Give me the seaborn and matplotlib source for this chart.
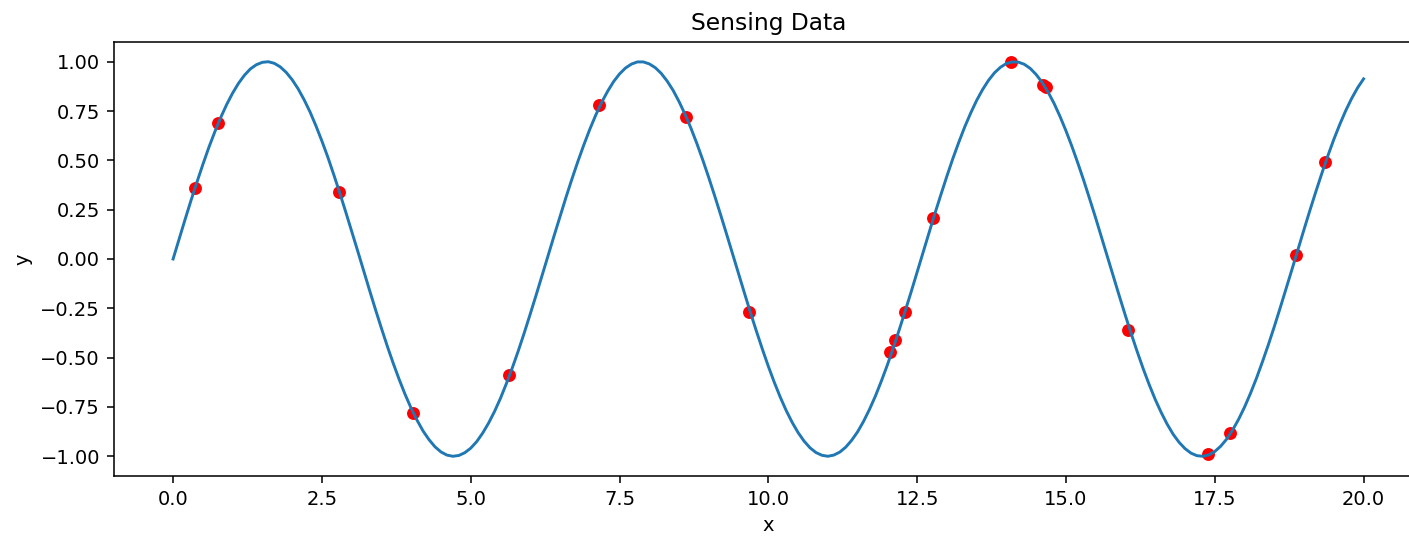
import numpy as np
import pandas as pd
import seaborn as sns
import matplotlib.pyplot as plt

# --- Data ---
# smooth curve, sampled every 0.1 on x from 0 to 20
CURVE_X = np.linspace(0, 20, 201)
CURVE_Y = [
    0.000, 0.100, 0.199, 0.296, 0.389, 0.479, 0.565, 0.644, 0.717, 0.783,
    0.841, 0.891, 0.932, 0.964, 0.985, 0.997, 1.000, 0.992, 0.974, 0.946,
    0.909, 0.863, 0.808, 0.746, 0.675, 0.598, 0.516, 0.427, 0.335, 0.239,
    0.141, 0.042, -0.058, -0.158, -0.256, -0.351, -0.443, -0.530, -0.612, -0.688,
    -0.757, -0.818, -0.872, -0.916, -0.952, -0.978, -0.994, -1.000, -0.996, -0.982,
    -0.959, -0.926, -0.883, -0.832, -0.773, -0.706, -0.631, -0.551, -0.465, -0.374,
    -0.279, -0.182, -0.083, 0.017, 0.117, 0.215, 0.312, 0.405, 0.494, 0.578,
    0.657, 0.729, 0.794, 0.850, 0.899, 0.938, 0.968, 0.988, 0.999, 0.999,
    0.989, 0.970, 0.941, 0.902, 0.855, 0.798, 0.734, 0.663, 0.585, 0.501,
    0.412, 0.319, 0.223, 0.125, 0.025, -0.075, -0.174, -0.272, -0.366, -0.457,
    -0.544, -0.625, -0.700, -0.768, -0.828, -0.880, -0.923, -0.957, -0.981, -0.995,
    -1.000, -0.994, -0.979, -0.954, -0.919, -0.876, -0.823, -0.762, -0.694, -0.618,
    -0.537, -0.450, -0.358, -0.263, -0.166, -0.066, 0.034, 0.133, 0.232, 0.327,
    0.420, 0.509, 0.592, 0.670, 0.740, 0.804, 0.859, 0.906, 0.944, 0.972,
    0.991, 0.999, 0.998, 0.987, 0.966, 0.935, 0.895, 0.846, 0.789, 0.723,
    0.650, 0.571, 0.486, 0.397, 0.303, 0.207, 0.108, 0.008, -0.092, -0.191,
    -0.288, -0.382, -0.472, -0.558, -0.638, -0.712, -0.778, -0.837, -0.888, -0.929,
    -0.961, -0.984, -0.997, -1.000, -0.993, -0.976, -0.949, -0.913, -0.867, -0.813,
    -0.751, -0.681, -0.605, -0.522, -0.435, -0.343, -0.247, -0.149, -0.050, 0.050,
    0.150, 0.248, 0.343, 0.435, 0.523, 0.606, 0.682, 0.752, 0.814, 0.868,
    0.913,
]

# sensed samples (red dots)
SENSE_X = [0.37, 0.76, 2.79, 4.03, 5.65, 7.16, 8.61, 9.68, 12.05, 12.13,
           12.29, 12.76, 14.07, 14.62, 14.67, 16.05, 17.39, 17.76, 18.87, 19.36]
SENSE_Y = [0.36, 0.69, 0.34, -0.78, -0.59, 0.78, 0.72, -0.27, -0.47, -0.41,
           -0.27, 0.21, 1.00, 0.88, 0.87, -0.36, -0.99, -0.88, 0.02, 0.49]

TITLE = "Sensing Data"
DPI = 140


def main():
    curve = pd.DataFrame({'x': CURVE_X, 'y': CURVE_Y})
    samples = pd.DataFrame({'x': SENSE_X, 'y': SENSE_Y})

    fig = plt.figure(figsize=(1409 / DPI, 537 / DPI), dpi=DPI)
    # the reference is cropped on the right, so the axes run past the figure edge
    ax = fig.add_axes([0.0806, 0.1136, 0.9294, 0.8082])

    sns.scatterplot(data=samples, x='x', y='y', ax=ax, color='red',
                    s=44, linewidth=0, zorder=1)
    sns.lineplot(data=curve, x='x', y='y', ax=ax, color='#1f77b4',
                 linewidth=1.5, zorder=2)

    ax.set_title(TITLE)
    ax.set_xlabel('x')
    ax.set_ylabel('y')

    fig.savefig('out.png', dpi=DPI)
    plt.close(fig)


if __name__ == "__main__":
    main()
